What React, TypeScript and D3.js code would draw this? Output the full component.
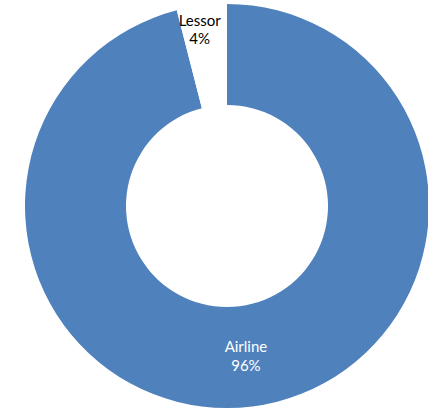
import React from "react";
import * as d3 from "d3";

const categories = ["Airline", "Lessor"];
const values = [96, 4];
const labels = ["96%", "4%"];
const colors = ["#4F81BD", "#FFFFFF"];
const textColors = ["#FFFFFF", "#000000"];

export default function App() {
  const W = 428, H = 411;
  const cx = 227, cy = 206, outerR = 202, innerR = 101;
  const pie = d3.pie<number>().sort(null).startAngle(0).endAngle(2 * Math.PI);
  const arcs = pie(values);
  const arc = d3.arc<d3.PieArcDatum<number>>().innerRadius(innerR).outerRadius(outerR);
  const labelR = [151, 178];
  return (
    <svg width={W} height={H} style={{ position: "absolute", left: 0, top: 0 }}>
      <rect width={W} height={H} fill="#fff" />
      <g transform={`translate(${cx},${cy})`}>
        {arcs.map((a, i) => (
          <path key={i} d={arc(a) || ""} fill={colors[i]} />
        ))}
        {arcs.map((a, i) => {
          const m = (a.startAngle + a.endAngle) / 2;
          const x = labelR[i] * Math.sin(m) - (i === 1 ? 5 : 0);
          const y = -labelR[i] * Math.cos(m);
          return (
            <text key={i} x={x} y={y} textAnchor="middle" fill={textColors[i]}
              fontFamily="Lato, 'Open Sans', sans-serif" fontSize={15} fontWeight={400}>
              <tspan x={x} dy="-0.25em">{categories[i]}</tspan>
              <tspan x={x} dy="1.25em">{labels[i]}</tspan>
            </text>
          );
        })}
      </g>
    </svg>
  );
}
